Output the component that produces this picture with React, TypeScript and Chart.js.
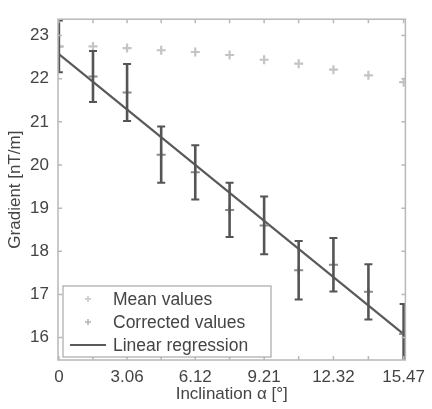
import React, { useEffect, useRef } from "react";
import { Chart, registerables } from "chart.js";

Chart.register(...registerables);

const inclination = [0, 1.53, 3.06, 4.59, 6.12, 7.66, 9.21, 10.76, 12.32, 13.89, 15.47];
const xTickLabels = ["0", "", "3.06", "", "6.12", "", "9.21", "", "12.32", "", "15.47"];
const meanValues = [22.75, 22.75, 22.71, 22.66, 22.62, 22.55, 22.44, 22.35, 22.21, 22.08, 21.92];
const correctedValues = [22.75, 22.05, 21.68, 20.24, 19.83, 18.96, 18.6, 17.56, 17.69, 17.06, 16.08];
const errors = [0.6, 0.59, 0.66, 0.65, 0.63, 0.63, 0.67, 0.68, 0.62, 0.64, 0.7];
const regressionX = [0, 15.47];
const regressionY = [22.57, 16.08];
const yTicks = [16, 17, 18, 19, 20, 21, 22, 23];

const FONT = "'Liberation Sans', Arial, sans-serif";

const framePlugin = {
  id: "frameAndErrors",
  afterDatasetsDraw(chart: any) {
    const { ctx, chartArea, scales } = chart;
    const xs = scales.x;
    const ys = scales.y;
    ctx.save();
    ctx.beginPath();
    ctx.rect(chartArea.left, chartArea.top, chartArea.right - chartArea.left, chartArea.bottom - chartArea.top);
    ctx.clip();
    ctx.strokeStyle = "#555";
    inclination.forEach((x, i) => {
      const px = xs.getPixelForValue(x);
      const top = ys.getPixelForValue(correctedValues[i] + errors[i]);
      const bot = ys.getPixelForValue(correctedValues[i] - errors[i]);
      ctx.lineWidth = 2.6;
      ctx.beginPath();
      ctx.moveTo(px, top);
      ctx.lineTo(px, bot);
      ctx.stroke();
      ctx.lineWidth = 2;
      ctx.beginPath();
      ctx.moveTo(px - 4, top);
      ctx.lineTo(px + 4, top);
      ctx.moveTo(px - 4, bot);
      ctx.lineTo(px + 4, bot);
      ctx.stroke();
    });
    ctx.restore();
  },
  afterDraw(chart: any) {
    const { ctx, chartArea, scales } = chart;
    const { left, right, top, bottom } = chartArea;
    const xs = scales.x;
    const ys = scales.y;
    ctx.save();
    ctx.strokeStyle = "#b8b8b8";
    ctx.lineWidth = 1.5;
    ctx.strokeRect(left, top, right - left, bottom - top);
    ctx.beginPath();
    inclination.forEach((v) => {
      const px = xs.getPixelForValue(v);
      ctx.moveTo(px, bottom);
      ctx.lineTo(px, bottom - 4);
      ctx.moveTo(px, top);
      ctx.lineTo(px, top + 4);
    });
    yTicks.forEach((v) => {
      const py = ys.getPixelForValue(v);
      ctx.moveTo(left, py);
      ctx.lineTo(left + 4, py);
      ctx.moveTo(right, py);
      ctx.lineTo(right - 4, py);
    });
    ctx.stroke();

    // legend
    const lx = 63, ly = 286, lw = 208, lh = 71;
    ctx.fillStyle = "#ffffff";
    ctx.fillRect(lx, ly, lw, lh);
    ctx.strokeStyle = "#a8a8a8";
    ctx.lineWidth = 1.2;
    ctx.strokeRect(lx, ly, lw, lh);
    const ds = chart.data.datasets;
    const rows = [299, 322, 345];
    ctx.font = `17.5px ${FONT}`;
    ctx.textBaseline = "middle";
    ctx.textAlign = "left";
    ds.forEach((d: any, i: number) => {
      const y = rows[i];
      if (d.type === "line" && d.showLine) {
        ctx.strokeStyle = d.borderColor;
        ctx.lineWidth = 2;
        ctx.beginPath();
        ctx.moveTo(70, y);
        ctx.lineTo(106, y);
        ctx.stroke();
      } else {
        ctx.strokeStyle = i === 0 ? "#d0d0d0" : "#bdbdbd";
        ctx.lineWidth = 1.8;
        ctx.beginPath();
        ctx.moveTo(85, y);
        ctx.lineTo(91, y);
        ctx.moveTo(88, y - 3);
        ctx.lineTo(88, y + 3);
        ctx.stroke();
      }
      ctx.fillStyle = "#444";
      ctx.fillText(d.label, 113, y + 1);
    });
    ctx.restore();
  },
};

export default function App() {
  const ref = useRef<HTMLCanvasElement>(null);
  useEffect(() => {
    if (!ref.current) return;
    const chart = new Chart(ref.current, {
      type: "scatter",
      data: {
        datasets: [
          {
            type: "scatter",
            label: "Mean values",
            data: inclination.map((x, i) => ({ x, y: meanValues[i] })),
            pointStyle: "cross",
            pointRadius: 4.5,
            pointBorderWidth: 2.2,
            pointBorderColor: "#c4c4c4",
            pointBackgroundColor: "#c4c4c4",
            showLine: false,
          } as any,
          {
            type: "scatter",
            label: "Corrected values",
            data: inclination.map((x, i) => ({ x, y: correctedValues[i] })),
            pointStyle: "cross",
            pointRadius: 4.5,
            pointBorderWidth: 2,
            pointBorderColor: "#8a8a8a",
            pointBackgroundColor: "#8a8a8a",
            showLine: false,
          } as any,
          {
            type: "line",
            label: "Linear regression",
            data: regressionX.map((x, i) => ({ x, y: regressionY[i] })),
            borderColor: "#5a5a5a",
            borderWidth: 2.2,
            pointRadius: 0,
            showLine: true,
            fill: false,
          } as any,
        ],
      },
      options: {
        animation: false,
        responsive: true,
        maintainAspectRatio: false,
        layout: { padding: { top: 7, right: 20, left: 0, bottom: 0 } },
        plugins: { legend: { display: false }, tooltip: { enabled: false } },
        scales: {
          x: {
            type: "linear",
            min: -0.04,
            max: 15.55,
            grid: { display: false, drawTicks: false },
            border: { display: false },
            afterBuildTicks: (scale: any) => {
              scale.ticks = inclination.map((v) => ({ value: v }));
            },
            afterFit: (scale: any) => {
              scale.height = 49;
            },
            ticks: {
              autoSkip: false,
              maxRotation: 0,
              padding: 7,
              color: "#444",
              font: { family: FONT, size: 17 },
              callback: (_v: any, i: number) => xTickLabels[i],
            },
            title: {
              display: true,
              text: "Inclination α [°]",
              color: "#444",
              font: { family: FONT, size: 17 },
              padding: { top: 0, bottom: 4 },
            },
          },
          y: {
            type: "linear",
            min: 15.48,
            max: 23.38,
            grid: { display: false, drawTicks: false },
            border: { display: false },
            afterBuildTicks: (scale: any) => {
              scale.ticks = yTicks.map((v) => ({ value: v }));
            },
            afterFit: (scale: any) => {
              scale.width = 58;
            },
            ticks: {
              padding: 9,
              color: "#444",
              font: { family: FONT, size: 17 },
            },
            title: {
              display: true,
              text: "Gradient [nT/m]",
              color: "#444",
              font: { family: FONT, size: 17 },
              padding: { top: 5, bottom: 0 },
            },
          },
        },
      },
      plugins: [framePlugin],
    });
    return () => chart.destroy();
  }, []);
  return (
    <div style={{ position: "fixed", left: 0, top: 0, width: 432, height: 409, background: "#fff" }}>
      <canvas ref={ref} />
    </div>
  );
}
